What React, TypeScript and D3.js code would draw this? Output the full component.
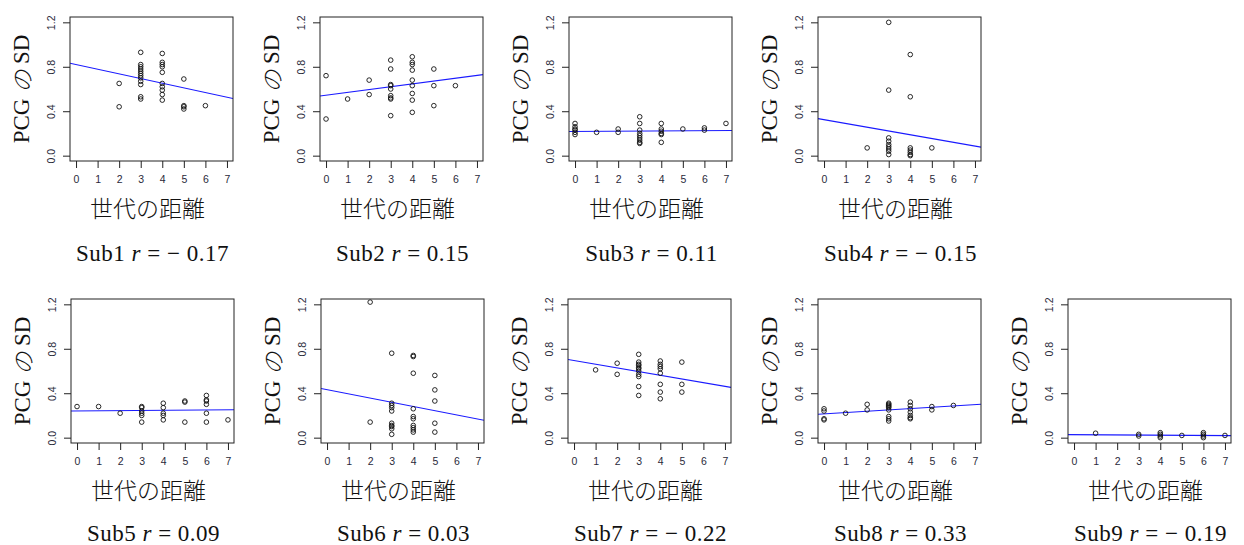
import React, { useEffect, useRef } from 'react';
import * as d3 from 'd3';

const subjects = ['Sub1', 'Sub2', 'Sub3', 'Sub4', 'Sub5', 'Sub6', 'Sub7', 'Sub8', 'Sub9'];
const rValues = ['−0.17', '0.15', '0.11', '−0.15', '0.09', '0.03', '−0.22', '0.33', '−0.19'];
const intercepts = [0.82, 0.544, 0.218, 0.324, 0.24, 0.432, 0.694, 0.214, 0.027];
const slopes = [-0.042, 0.0255, 0.0012, -0.034, 0.0016, -0.0378, -0.0332, 0.0119, -0.0012];
const xTicks = [0, 1, 2, 3, 4, 5, 6, 7];
const yTicks = [0, 0.4, 0.8, 1.2];

const sub1 = [[2,0.65],[2,0.44],[3,0.93],[3,0.82],[3,0.80],[3,0.78],[3,0.76],[3,0.74],[3,0.72],[3,0.70],[3,0.67],[3,0.64],[3,0.53],[3,0.51],[4,0.92],[4,0.84],[4,0.82],[4,0.80],[4,0.75],[4,0.65],[4,0.62],[4,0.59],[4,0.55],[4,0.50],[5,0.69],[5,0.45],[5,0.44],[5,0.42],[6,0.45]];
const sub2 = [[0,0.72],[0,0.33],[1,0.51],[2,0.68],[2,0.55],[3,0.86],[3,0.78],[3,0.64],[3,0.63],[3,0.60],[3,0.54],[3,0.52],[3,0.51],[3,0.36],[4,0.89],[4,0.84],[4,0.82],[4,0.77],[4,0.68],[4,0.63],[4,0.56],[4,0.50],[4,0.39],[5,0.78],[5,0.63],[5,0.45],[6,0.63]];
const sub3 = [[0,0.29],[0,0.26],[0,0.24],[0,0.23],[0,0.21],[0,0.19],[1,0.21],[2,0.24],[2,0.21],[3,0.35],[3,0.29],[3,0.23],[3,0.20],[3,0.18],[3,0.16],[3,0.14],[3,0.12],[3,0.11],[4,0.29],[4,0.24],[4,0.22],[4,0.20],[4,0.19],[4,0.12],[5,0.24],[6,0.25],[6,0.23],[7,0.29]];
const sub4 = [[2,0.07],[3,1.2],[3,0.59],[3,0.16],[3,0.13],[3,0.10],[3,0.08],[3,0.06],[3,0.04],[3,0.01],[4,0.91],[4,0.53],[4,0.07],[4,0.05],[4,0.03],[4,0.01],[4,0.0],[5,0.07]];
const sub5 = [[0,0.28],[1,0.28],[2,0.22],[3,0.28],[3,0.27],[3,0.24],[3,0.22],[3,0.20],[3,0.14],[4,0.31],[4,0.27],[4,0.22],[4,0.20],[4,0.16],[5,0.33],[5,0.32],[5,0.14],[6,0.38],[6,0.34],[6,0.33],[6,0.30],[6,0.22],[6,0.14],[7,0.16]];
const sub6 = [[2,1.22],[2,0.14],[3,0.76],[3,0.31],[3,0.29],[3,0.27],[3,0.24],[3,0.13],[3,0.11],[3,0.10],[3,0.08],[3,0.03],[4,0.74],[4,0.73],[4,0.58],[4,0.26],[4,0.19],[4,0.17],[4,0.11],[4,0.09],[4,0.07],[4,0.05],[5,0.56],[5,0.43],[5,0.33],[5,0.13],[5,0.05]];
const sub7 = [[1,0.61],[2,0.67],[2,0.57],[3,0.75],[3,0.68],[3,0.66],[3,0.65],[3,0.63],[3,0.62],[3,0.60],[3,0.57],[3,0.55],[3,0.46],[3,0.38],[4,0.69],[4,0.66],[4,0.64],[4,0.62],[4,0.58],[4,0.48],[4,0.41],[4,0.35],[5,0.68],[5,0.48],[5,0.41]];
const sub8 = [[0,0.26],[0,0.24],[0,0.17],[0,0.16],[1,0.22],[2,0.30],[2,0.25],[3,0.31],[3,0.30],[3,0.29],[3,0.28],[3,0.27],[3,0.25],[3,0.19],[3,0.17],[3,0.15],[4,0.32],[4,0.29],[4,0.26],[4,0.23],[4,0.20],[4,0.18],[4,0.17],[5,0.28],[5,0.25],[6,0.29]];
const sub9 = [[1,0.04],[3,0.03],[3,0.015],[4,0.045],[4,0.03],[4,0.015],[4,0.0],[5,0.02],[6,0.045],[6,0.03],[6,0.015],[6,0.0],[7,0.02]];

const allPoints = [sub1, sub2, sub3, sub4, sub5, sub6, sub7, sub8, sub9];

// panel box positions (left, top)
const boxLeft = [70, 320, 569, 818, 71, 321, 568, 818, 1068];
const boxTop = [17, 17, 17, 17, 299, 299, 299, 299, 299];
const boxW = 163;
const boxH = 144;

const width = 1244;
const height = 545;

const App = () => {
  const svgRef = useRef(null);

  useEffect(() => {
    const svg = d3.select(svgRef.current);
    svg.selectAll('*').remove();

    allPoints.forEach((pts, i) => {
      const g = svg.append('g')
        .attr('transform', 'translate(' + boxLeft[i] + ',' + boxTop[i] + ')');

      // R style 4% extension
      const xScale = d3.scaleLinear().domain([-0.28, 7.28]).range([0, boxW]);
      const yScale = d3.scaleLinear().domain([-0.048, 1.248]).range([boxH, 0]);

      g.append('clipPath').attr('id', 'clip' + i)
        .append('rect').attr('width', boxW).attr('height', boxH);

      // regression line
      const lineData = [-0.28, 7.28].map(x => ({ x: x, y: intercepts[i] + slopes[i] * x }));
      g.append('path')
        .datum(lineData)
        .attr('d', d3.line().x(d => xScale(d.x)).y(d => yScale(d.y)))
        .attr('stroke', '#1a1aff')
        .attr('stroke-width', 1.1)
        .attr('fill', 'none')
        .attr('clip-path', 'url(#clip' + i + ')');

      g.selectAll('circle')
        .data(pts)
        .enter()
        .append('circle')
        .attr('cx', d => xScale(d[0]))
        .attr('cy', d => yScale(d[1]))
        .attr('r', 2.3)
        .attr('fill', 'none')
        .attr('stroke', '#111')
        .attr('stroke-width', 0.9);

      g.append('rect')
        .attr('width', boxW).attr('height', boxH)
        .attr('fill', 'none').attr('stroke', '#222').attr('stroke-width', 1);

      // x axis
      const xAxis = g.append('g')
        .attr('transform', 'translate(0,' + boxH + ')')
        .call(d3.axisBottom(xScale).tickValues(xTicks).tickSize(7).tickPadding(8).tickFormat(d3.format('d')));
      xAxis.select('.domain').remove();
      xAxis.selectAll('line').attr('stroke', '#222');
      xAxis.selectAll('text')
        .attr('font-family', 'Liberation Sans, Arial, sans-serif')
        .attr('font-size', 10.5)
        .attr('fill', '#2a2a3a');

      // y axis
      const yAxis = g.append('g')
        .call(d3.axisLeft(yScale).tickValues(yTicks).tickSize(7).tickFormat(d3.format('.1f')));
      yAxis.select('.domain').remove();
      yAxis.selectAll('line').attr('stroke', '#222');
      yAxis.selectAll('text')
        .attr('font-family', 'Liberation Sans, Arial, sans-serif')
        .attr('font-size', 10.5)
        .attr('fill', '#2a2a3a')
        .attr('x', null).attr('dy', null)
        .attr('text-anchor', 'middle')
        .attr('transform', 'translate(-19,0) rotate(-90)')
        .attr('dominant-baseline', 'central');

      // y label
      const yl = g.append('text')
        .attr('transform', 'translate(-49,' + (boxH / 2) + ') rotate(-90)')
        .attr('text-anchor', 'middle')
        .attr('dominant-baseline', 'central')
        .attr('font-size', 23)
        .attr('fill', '#111')
        .attr('font-family', 'Liberation Serif, Times New Roman, serif');
      yl.append('tspan').text('PCG ');
      yl.append('tspan').attr('font-family', 'Noto Sans CJK JP').attr('font-weight', 300).attr('font-style', 'italic').text('の');
      yl.append('tspan').text(' SD');

      // x label
      g.append('text')
        .attr('x', boxW / 2 - 4)
        .attr('y', boxH + 56)
        .attr('text-anchor', 'middle')
        .attr('font-size', 23)
        .attr('font-weight', 300)
        .attr('fill', '#111')
        .attr('font-family', 'Noto Sans CJK JP, sans-serif')
        .text('世代の距離');

      // subtitle
      const st = g.append('text')
        .attr('x', boxW / 2 + 1)
        .attr('y', boxH + (i < 4 ? 100 : 98))
        .attr('text-anchor', 'middle')
        .attr('font-size', 23)
        .attr('letter-spacing', 0.5)
        .attr('fill', '#111')
        .attr('font-family', 'Liberation Serif, Times New Roman, serif');
      st.append('tspan').text(subjects[i] + ' ');
      st.append('tspan').attr('font-style', 'italic').text('r');
      st.append('tspan').text(rValues[i].startsWith('−') ? ' =  ' + rValues[i].replace('−', '− ') : ' = ' + rValues[i]);
    });
  }, []);

  return (
    <div style={{ position: 'absolute', left: 0, top: 0, background: '#fff' }}>
      <svg ref={svgRef} width={width} height={height} style={{ display: 'block' }}></svg>
    </div>
  );
};

export default App;
